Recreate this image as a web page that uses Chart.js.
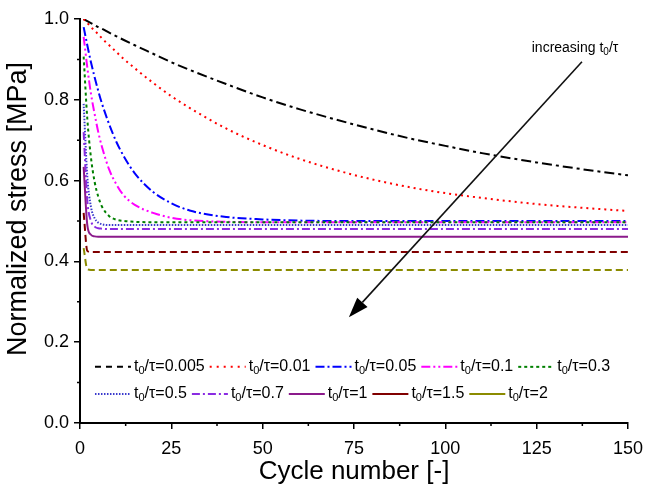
<!DOCTYPE html>
<html>
<head>
<meta charset="utf-8">
<script src="https://cdn.jsdelivr.net/npm/chart.js@4/dist/chart.umd.min.js"></script>
<style>
  html, body { margin: 0; padding: 0; background: #fff; }
</style>
</head>
<body>
<canvas id="c" width="656" height="491"></canvas>
<script>
// Cycle numbers at which the normalized stress is sampled
const cycles = [1, 2, 3, 4, 5, 6, 8, 10, 12, 15, 20, 25, 30, 40, 50, 60, 75, 90, 100, 110, 125, 140, 150];

// Ratio t0/tau for each curve
const ratioLabels = ['0.005', '0.01', '0.05', '0.1', '0.3', '0.5', '0.7', '1', '1.5', '2'];

// Normalized stress [MPa] per ratio
const stress_0005 = [1.000, 0.995, 0.990, 0.985, 0.980, 0.976, 0.966, 0.957, 0.948, 0.935, 0.914, 0.893, 0.874, 0.839, 0.806, 0.777, 0.739, 0.705, 0.686, 0.668, 0.645, 0.625, 0.613];
const stress_001  = [1.000, 0.990, 0.980, 0.971, 0.962, 0.952, 0.935, 0.918, 0.901, 0.878, 0.842, 0.809, 0.780, 0.729, 0.688, 0.654, 0.614, 0.584, 0.569, 0.557, 0.542, 0.531, 0.525];
const stress_005  = [0.980, 0.935, 0.893, 0.856, 0.822, 0.791, 0.739, 0.695, 0.660, 0.618, 0.572, 0.544, 0.526, 0.510, 0.504, 0.501, 0.500, 0.500, 0.500, 0.500, 0.500, 0.500, 0.500];
const stress_01   = [0.956, 0.880, 0.815, 0.765, 0.720, 0.684, 0.627, 0.590, 0.563, 0.540, 0.520, 0.508, 0.502, 0.498, 0.497, 0.497, 0.497, 0.497, 0.497, 0.497, 0.497, 0.497, 0.497];
const stress_03   = [0.907, 0.753, 0.657, 0.597, 0.560, 0.536, 0.512, 0.503, 0.500, 0.498, 0.497, 0.497, 0.497, 0.497, 0.497, 0.497, 0.497, 0.497, 0.497, 0.497, 0.497, 0.497, 0.497];
const stress_05   = [0.790, 0.610, 0.535, 0.507, 0.496, 0.492, 0.490, 0.490, 0.490, 0.490, 0.490, 0.490, 0.490, 0.490, 0.490, 0.490, 0.490, 0.490, 0.490, 0.490, 0.490, 0.490, 0.490];
const stress_07   = [0.720, 0.550, 0.500, 0.486, 0.482, 0.481, 0.480, 0.480, 0.480, 0.480, 0.480, 0.480, 0.480, 0.480, 0.480, 0.480, 0.480, 0.480, 0.480, 0.480, 0.480, 0.480, 0.480];
const stress_1    = [0.634, 0.490, 0.466, 0.462, 0.461, 0.461, 0.461, 0.461, 0.461, 0.461, 0.461, 0.461, 0.461, 0.461, 0.461, 0.461, 0.461, 0.461, 0.461, 0.461, 0.461, 0.461, 0.461];
const stress_15   = [0.520, 0.426, 0.423, 0.423, 0.423, 0.423, 0.423, 0.423, 0.423, 0.423, 0.423, 0.423, 0.423, 0.423, 0.423, 0.423, 0.423, 0.423, 0.423, 0.423, 0.423, 0.423, 0.423];
const stress_2    = [0.433, 0.381, 0.379, 0.379, 0.379, 0.379, 0.379, 0.379, 0.379, 0.379, 0.379, 0.379, 0.379, 0.379, 0.379, 0.379, 0.379, 0.379, 0.379, 0.379, 0.379, 0.379, 0.379];

const seriesValues = [stress_0005, stress_001, stress_005, stress_01, stress_03, stress_05, stress_07, stress_1, stress_15, stress_2];

// Axis ticks
const xTicks = [0, 25, 50, 75, 100, 125, 150];
const yTicks = [0.0, 0.2, 0.4, 0.6, 0.8, 1.0];

// Line styles
const lineColors = ['#000000', '#ff0000', '#0000ff', '#ff00ff', '#008000', '#3a3acc', '#8a2be2', '#8b1a8b', '#800000', '#8b8b00'];
const curveDash  = [[10, 4, 3, 4], [2, 4], [9, 3, 2, 3], [9, 3, 2, 3, 2, 3], [3, 3], [1.5, 1.5], [8, 3, 2, 3], [], [7, 4], [7, 4]];
const legendDash = [[6, 5], [2, 5], [9, 3, 2, 3], [9, 3, 2, 3, 2, 3], [3, 3], [1.5, 1.5], [8, 3, 2, 3], [], [], []];

const FONT = "'Liberation Sans', Arial, sans-serif";
const Y_TITLE = 'Normalized stress [MPa]';

// Draws "t0/τ=value" with a subscript 0, returns the x after the text
function drawRatio(ctx, x, y, suffix, size) {
  ctx.textBaseline = 'middle';
  ctx.textAlign = 'left';
  ctx.font = size + 'px ' + FONT;
  ctx.fillText('t', x, y);
  x += ctx.measureText('t').width;
  const sub = Math.round(size * 0.68);
  ctx.font = sub + 'px ' + FONT;
  ctx.fillText('0', x, y + size * 0.28);
  x += ctx.measureText('0').width;
  ctx.font = size + 'px ' + FONT;
  const rest = '/τ' + suffix;
  ctx.fillText(rest, x, y);
  return x + ctx.measureText(rest).width;
}

// Legend drawn inside the plot area, two rows of five entries
const inlineLegend = {
  id: 'inlineLegend',
  afterDatasetsDraw(chart) {
    const { ctx } = chart;
    const xs = chart.scales.x, ys = chart.scales.y;
    const rows = [[0, 1, 2, 3, 4], [5, 6, 7, 8, 9]];
    const rowY = [ys.getPixelForValue(0.139), ys.getPixelForValue(0.072)];
    ctx.save();
    ctx.fillStyle = '#000';
    rows.forEach((row, r) => {
      let x = xs.getPixelForValue(4.1);
      const y = rowY[r];
      row.forEach(i => {
        ctx.strokeStyle = lineColors[i];
        ctx.lineWidth = 2;
        ctx.setLineDash(legendDash[i]);
        ctx.beginPath();
        ctx.moveTo(x, y);
        ctx.lineTo(x + 36, y);
        ctx.stroke();
        ctx.setLineDash([]);
        x += 39;
        x = drawRatio(ctx, x, y, '=' + ratioLabels[i], 16);
        x += 5;
      });
    });
    ctx.restore();
  }
};

// "increasing t0/τ" arrow annotation, placed in data coordinates
const arrowNote = {
  id: 'arrowNote',
  afterDatasetsDraw(chart) {
    const { ctx } = chart;
    const xs = chart.scales.x, ys = chart.scales.y;
    const x0 = xs.getPixelForValue(137.4), y0 = ys.getPixelForValue(0.894);
    const x1 = xs.getPixelForValue(73.6), y1 = ys.getPixelForValue(0.262);
    const ang = Math.atan2(y1 - y0, x1 - x0);
    const headLen = 20, headHalf = 7;
    const bx = x1 - headLen * Math.cos(ang), by = y1 - headLen * Math.sin(ang);
    ctx.save();
    ctx.strokeStyle = '#111';
    ctx.fillStyle = '#000';
    ctx.lineWidth = 1.6;
    ctx.beginPath();
    ctx.moveTo(x0, y0);
    ctx.lineTo(bx, by);
    ctx.stroke();
    ctx.beginPath();
    ctx.moveTo(x1, y1);
    ctx.lineTo(bx + headHalf * Math.sin(ang), by - headHalf * Math.cos(ang));
    ctx.lineTo(bx - headHalf * Math.sin(ang), by + headHalf * Math.cos(ang));
    ctx.closePath();
    ctx.fill();
    // label
    const size = 14;
    ctx.font = size + 'px ' + FONT;
    const w1 = ctx.measureText('increasing t').width;
    ctx.font = Math.round(size * 0.68) + 'px ' + FONT;
    const w2 = ctx.measureText('0').width;
    ctx.font = size + 'px ' + FONT;
    const w3 = ctx.measureText('/τ').width;
    const cx = xs.getPixelForValue(135.5), cy = ys.getPixelForValue(0.928);
    let x = cx - (w1 + w2 + w3) / 2;
    ctx.textBaseline = 'middle';
    ctx.fillText('increasing t', x, cy);
    x += w1;
    ctx.font = Math.round(size * 0.68) + 'px ' + FONT;
    ctx.fillText('0', x, cy + size * 0.28);
    x += w2;
    ctx.font = size + 'px ' + FONT;
    ctx.fillText('/τ', x, cy);
    ctx.restore();
  }
};

// Minor tick marks halfway between the labelled ticks, plus the y-axis title
const axisExtras = {
  id: 'axisExtras',
  afterDraw(chart) {
    const { ctx, chartArea } = chart;
    const xs = chart.scales.x, ys = chart.scales.y;
    ctx.save();
    ctx.strokeStyle = '#000';
    ctx.lineWidth = 1.5;
    ctx.beginPath();
    for (let i = 0; i < xTicks.length - 1; i++) {
      const px = xs.getPixelForValue((xTicks[i] + xTicks[i + 1]) / 2);
      ctx.moveTo(px, xs.top);
      ctx.lineTo(px, xs.top + 3);
    }
    for (let i = 0; i < yTicks.length - 1; i++) {
      const py = ys.getPixelForValue((yTicks[i] + yTicks[i + 1]) / 2);
      ctx.moveTo(ys.right, py);
      ctx.lineTo(ys.right - 3, py);
    }
    ctx.stroke();
    // y-axis title, rotated
    ctx.translate(19, (chartArea.top + chartArea.bottom) / 2 - 12);
    ctx.rotate(-Math.PI / 2);
    ctx.fillStyle = '#000';
    ctx.font = '27px ' + FONT;
    ctx.textAlign = 'center';
    ctx.textBaseline = 'middle';
    ctx.fillText(Y_TITLE, 0, 0);
    ctx.restore();
  }
};

const datasets = seriesValues.map((vals, i) => ({
  label: 't0/τ=' + ratioLabels[i],
  data: cycles.map((c, k) => ({ x: c, y: vals[k] })),
  borderColor: lineColors[i],
  backgroundColor: lineColors[i],
  borderDash: curveDash[i],
  borderWidth: 2,
  pointRadius: 0,
  fill: false,
  cubicInterpolationMode: 'monotone'
})).reverse();

new Chart(document.getElementById('c'), {
  type: 'line',
  data: { datasets },
  plugins: [axisExtras, arrowNote, inlineLegend],
  options: {
    responsive: false,
    animation: false,
    events: [],
    layout: { padding: { top: 19, right: 28, bottom: 0, left: 0 } },
    plugins: { legend: { display: false }, tooltip: { enabled: false } },
    scales: {
      x: {
        type: 'linear',
        min: 0, max: 150,
        afterFit(s) { s.height = 68; },
        afterBuildTicks(s) { s.ticks = xTicks.map(v => ({ value: v })); },
        border: { display: true, color: '#000', width: 2 },
        grid: { display: true, drawOnChartArea: false, drawTicks: true, tickLength: 6, color: '#000', lineWidth: 1.5 },
        ticks: { color: '#000', padding: 9, maxRotation: 0, font: { family: FONT, size: 18 } },
        title: { display: true, text: 'Cycle number [-]', color: '#000', font: { family: FONT, size: 26 }, padding: { top: 2, bottom: 4 } }
      },
      y: {
        type: 'linear',
        min: 0, max: 1,
        afterFit(s) { s.width = 80; },
        afterBuildTicks(s) { s.ticks = yTicks.map(v => ({ value: v })); },
        border: { display: true, color: '#000', width: 2 },
        grid: { display: true, drawOnChartArea: false, drawTicks: true, tickLength: 6, color: '#000', lineWidth: 1.5 },
        ticks: { color: '#000', padding: 5, font: { family: FONT, size: 18 }, callback: v => Number(v).toFixed(1) },
        title: { display: false, text: Y_TITLE }
      }
    }
  }
});
</script>
</body>
</html>
